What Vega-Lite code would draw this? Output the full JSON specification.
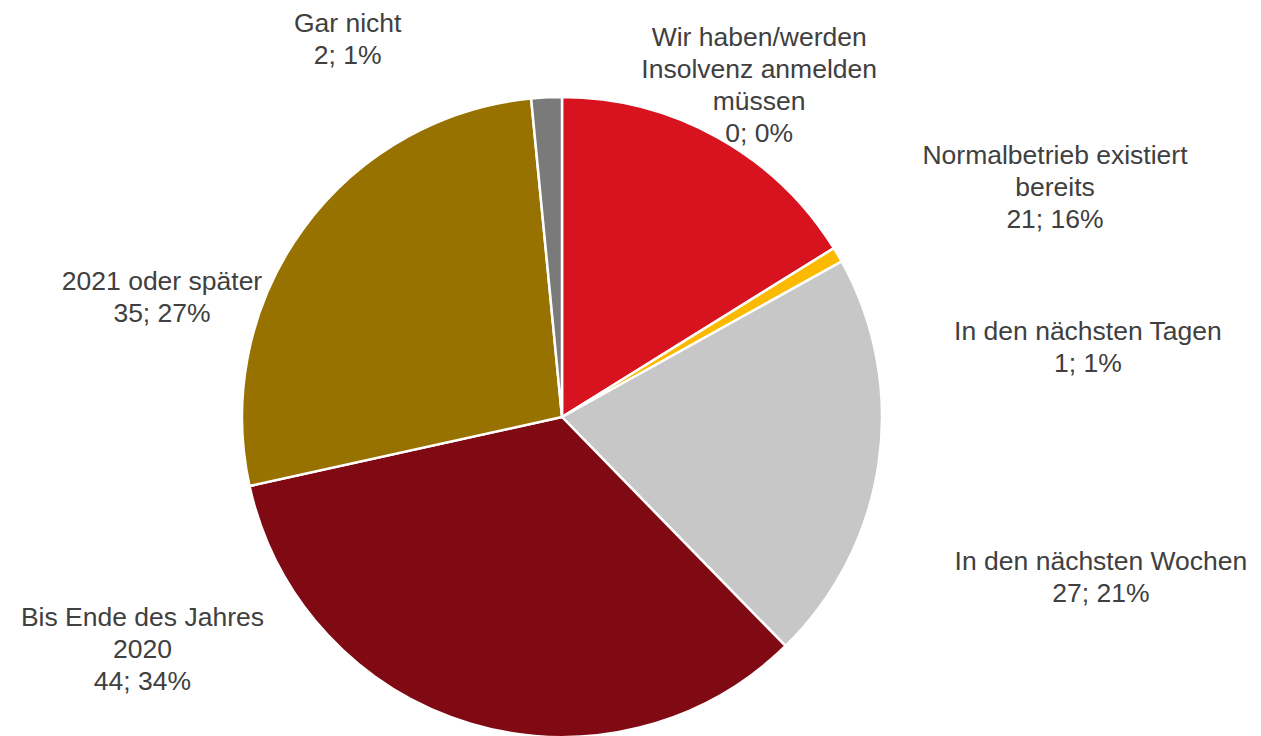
{
  "$schema": "https://vega.github.io/schema/vega-lite/v6.json",
  "width": 1398,
  "height": 834,
  "autosize": {"type": "none"},
  "padding": {"left": -137, "top": 0, "right": 0, "bottom": -98},
  "background": "#ffffff",
  "config": {
    "view": {
      "stroke": null,
      "fill": {
        "gradient": "linear", "x1": 0, "y1": 0, "x2": 0, "y2": 1,
        "stops": [
          {"offset": 0, "color": "#ffffff"},
          {"offset": 0.56, "color": "#ffffff"},
          {"offset": 0.8825, "color": "#f6f6f6"},
          {"offset": 1, "color": "#f4f4f4"}
        ]
      }
    },
    "text": {"font": "Liberation Sans", "fontSize": 26.5, "lineHeight": 32, "color": "#404040", "align": "center", "baseline": "middle", "lineBreak": "\n"}
  },
  "data": {
    "values": [
      {"nr": 1, "kategorie": "Wir haben/werden Insolvenz anmelden müssen", "anzahl": 0, "label": "Wir haben/werden\nInsolvenz anmelden\nmüssen\n0; 0%"},
      {"nr": 2, "kategorie": "Normalbetrieb existiert bereits", "anzahl": 21, "label": "Normalbetrieb existiert\nbereits\n21; 16%"},
      {"nr": 3, "kategorie": "In den nächsten Tagen", "anzahl": 1, "label": "In den nächsten Tagen\n1; 1%"},
      {"nr": 4, "kategorie": "In den nächsten Wochen", "anzahl": 27, "label": "In den nächsten Wochen\n27; 21%"},
      {"nr": 5, "kategorie": "Bis Ende des Jahres 2020", "anzahl": 44, "label": "Bis Ende des Jahres\n2020\n44; 34%"},
      {"nr": 6, "kategorie": "2021 oder später", "anzahl": 35, "label": "2021 oder später\n35; 27%"},
      {"nr": 7, "kategorie": "Gar nicht", "anzahl": 2, "label": "Gar nicht\n2; 1%"}
    ]
  },
  "encoding": {
    "theta": {"field": "anzahl", "type": "quantitative", "stack": true},
    "order": {"field": "nr", "type": "quantitative"}
  },
  "layer": [
    {
      "mark": {"type": "arc", "outerRadius": 320, "stroke": "#ffffff", "strokeWidth": 2.5},
      "encoding": {
        "color": {
          "field": "kategorie", "type": "nominal", "legend": null,
          "scale": {
            "domain": ["Wir haben/werden Insolvenz anmelden müssen", "Normalbetrieb existiert bereits", "In den nächsten Tagen", "In den nächsten Wochen", "Bis Ende des Jahres 2020", "2021 oder später", "Gar nicht"],
            "range": ["#3f3f3f", "#d6131f", "#fbb900", "#c7c7c7", "#7f0a13", "#987200", "#7a7a7a"]
          }
        }
      }
    },
    {
      "mark": {"type": "text", "radius": 448, "thetaOffset": -0.4506},
      "encoding": {"text": {"condition": {"test": "datum.nr === 7", "field": "label", "type": "nominal"}, "value": ""}}
    },
    {
      "mark": {"type": "text", "radius": 427, "thetaOffset": 0.48},
      "encoding": {"text": {"condition": {"test": "datum.nr === 1", "field": "label", "type": "nominal"}, "value": ""}}
    },
    {
      "mark": {"type": "text", "radius": 557.6, "thetaOffset": 0.5772},
      "encoding": {"text": {"condition": {"test": "datum.nr === 2", "field": "label", "type": "nominal"}, "value": ""}}
    },
    {
      "mark": {"type": "text", "radius": 532.7, "thetaOffset": 0.3723},
      "encoding": {"text": {"condition": {"test": "datum.nr === 3", "field": "label", "type": "nominal"}, "value": ""}}
    },
    {
      "mark": {"type": "text", "radius": 558, "thetaOffset": 0.117},
      "encoding": {"text": {"condition": {"test": "datum.nr === 4", "field": "label", "type": "nominal"}, "value": ""}}
    },
    {
      "mark": {"type": "text", "radius": 465.2, "thetaOffset": 0.834},
      "encoding": {"text": {"condition": {"test": "datum.nr === 5", "field": "label", "type": "nominal"}, "value": ""}}
    },
    {
      "mark": {"type": "text", "radius": 422.3, "thetaOffset": -0.3018},
      "encoding": {"text": {"condition": {"test": "datum.nr === 6", "field": "label", "type": "nominal"}, "value": ""}}
    }
  ]
}
